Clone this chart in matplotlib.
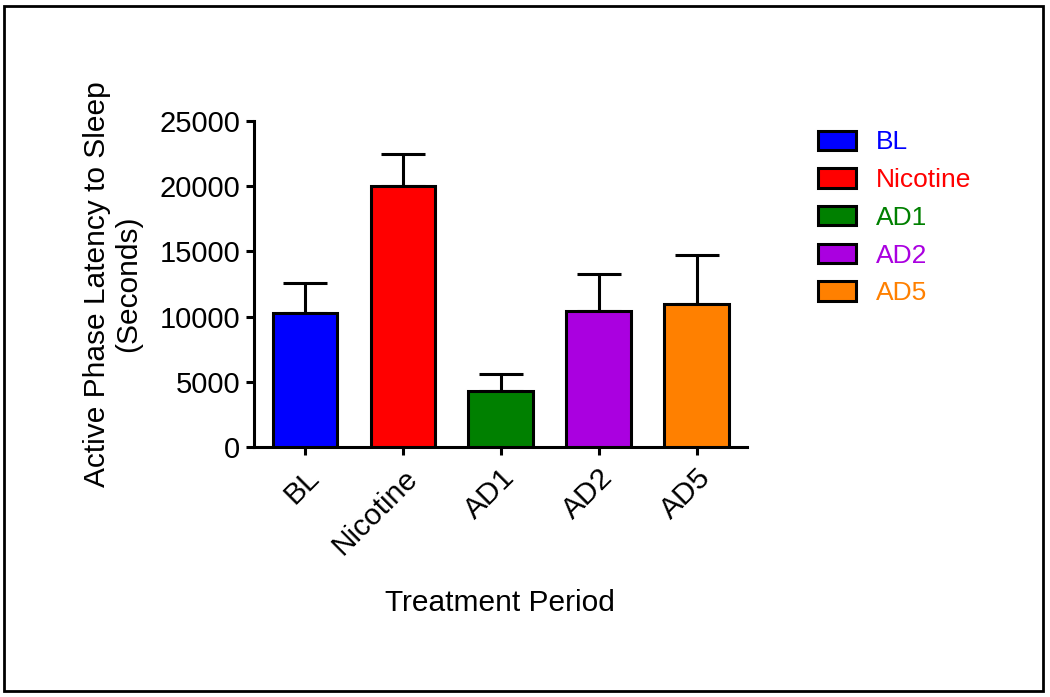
import matplotlib
matplotlib.use("Agg")
import matplotlib.pyplot as plt
from matplotlib.patches import Rectangle, Patch

plt.rcParams["font.family"] = ["Liberation Sans", "DejaVu Sans"]

# Dados
categories = ["BL", "Nicotine", "AD1", "AD2", "AD5"]
means = [10300, 20000, 4300, 10400, 11000]
errors = [2300, 2450, 1300, 2850, 3750]
colors = ["#0000FF", "#FF0000", "#008000", "#AA00E0", "#FF8000"]
y_ticks = [0, 5000, 10000, 15000, 20000, 25000]

fig = plt.figure(figsize=(10.5, 6.97), dpi=100)
ax = fig.add_axes([0.2419, 0.3587, 0.4692, 0.4677])

x = range(len(categories))
ax.bar(x, means, width=0.66, color=colors, edgecolor="black", linewidth=2.2, zorder=3)
ax.errorbar(x, means, yerr=[[0] * len(errors), errors], fmt="none", ecolor="black",
            elinewidth=2.2, capsize=16, capthick=2.2, zorder=2)

ax.set_xlim(-0.52, 4.51)
ax.set_ylim(0, 25000)
ax.set_yticks(y_ticks)
ax.set_yticklabels([str(v) for v in y_ticks], fontsize=21)
ax.set_xticks(list(x))
ax.set_xticklabels(categories, fontsize=21.5, rotation=45, ha="right", rotation_mode="anchor")
ax.tick_params(axis="both", direction="out", length=6, width=2.2, pad=4)
ax.tick_params(axis="x", pad=6)

for side in ["top", "right"]:
    ax.spines[side].set_visible(False)
for side in ["left", "bottom"]:
    ax.spines[side].set_linewidth(2.2)

ax.set_ylabel("Active Phase Latency to Sleep\n(Seconds)", fontsize=21.5, linespacing=1.1)
ax.yaxis.set_label_coords(-0.228, 0.5)
ax.set_xlabel("Treatment Period", fontsize=21.5)
ax.xaxis.set_label_coords(0.5, -0.435)

handles = [Patch(facecolor=c, edgecolor="black", linewidth=2.2) for c in colors]
leg = fig.legend(handles, categories, loc="upper left", bbox_to_anchor=(0.769, 0.828),
                 frameon=False, fontsize=19, handlelength=1.45, handleheight=0.75,
                 handletextpad=0.75, labelspacing=0.52, borderaxespad=0)
for text, c in zip(leg.get_texts(), colors):
    text.set_color(c)

# Moldura externa
fig.patches.append(Rectangle((0.004, 0.009), 0.989, 0.983, transform=fig.transFigure,
                             fill=False, edgecolor="black", linewidth=2))

fig.savefig("out.png", dpi=100)
